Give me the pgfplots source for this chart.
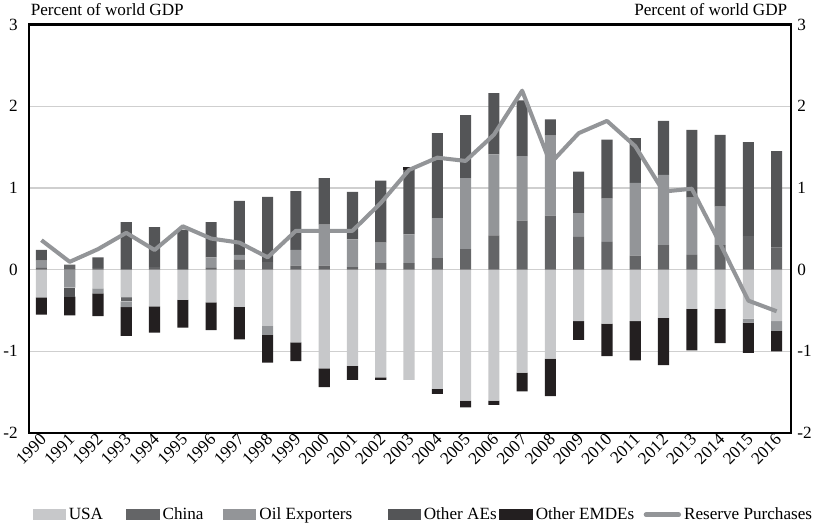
\documentclass[border=0pt]{standalone}
\usepackage{pgfplots}
\pgfplotsset{compat=1.18}
\usepackage{pgfplotstable}
\usepackage{fontspec}
\setmainfont{Liberation Serif}
\definecolor{cusa}{HTML}{C7C8CA}
\definecolor{cchina}{HTML}{646567}
\definecolor{coil}{HTML}{939598}
\definecolor{caes}{HTML}{545557}
\definecolor{cemde}{HTML}{231F20}
\definecolor{cline}{HTML}{939598}
\definecolor{cgrid}{HTML}{CFCFCF}

\pgfplotstableread{
year usa china oil aes emde
1990 0 0.02 0.09 0.13 0
1991 0 0.06 0 0 0
1992 0 0.02 0 0.13 0
1993 0 0 0 0.58 0
1994 0 0.03 0 0.49 0
1995 0 0 0 0.49 0
1996 0 0.02 0.13 0.43 0
1997 0 0.12 0.06 0.66 0
1998 0 0.09 0 0.80 0
1999 0 0.05 0.19 0.72 0
2000 0 0.05 0.50 0.57 0
2001 0 0.03 0.34 0.58 0
2002 0 0.08 0.25 0.76 0
2003 0 0.08 0.35 0.79 0.03
2004 0 0.14 0.49 1.04 0
2005 0 0.25 0.87 0.77 0
2006 0 0.42 0.99 0.75 0
2007 0 0.60 0.79 0.68 0
2008 0 0.66 0.98 0.20 0
2009 0 0.40 0.29 0.51 0
2010 0 0.34 0.53 0.72 0
2011 0 0.17 0.89 0.55 0
2012 0 0.30 0.86 0.66 0
2013 0 0.18 0.70 0.83 0
2014 0 0.30 0.47 0.88 0
2015 0 0.41 0 1.15 0
2016 0 0.27 0 1.18 0
}\postab

\pgfplotstableread{
year usa china oil aes emde
1990 -0.34 0 0 0 -0.21
1991 0 0 -0.22 -0.11 -0.23
1992 -0.23 0 -0.06 0 -0.28
1993 -0.34 -0.05 -0.07 0 -0.35
1994 -0.45 0 0 0 -0.32
1995 -0.37 0 0 0 -0.34
1996 -0.40 0 0 0 -0.34
1997 -0.455 0 0 0 -0.40
1998 -0.69 0 -0.11 0 -0.34
1999 -0.89 0 0 0 -0.23
2000 -1.21 0 0 0 -0.23
2001 -1.18 0 0 0 -0.17
2002 -1.32 0 0 0 -0.03
2003 -1.35 0 0 0 0
2004 -1.46 0 0 0 -0.06
2005 -1.605 0 0 0 -0.08
2006 -1.605 0 0 0 -0.05
2007 -1.26 0 0 0 -0.23
2008 -1.09 0 0 0 -0.46
2009 -0.63 0 0 0 -0.23
2010 -0.66 0 0 0 -0.40
2011 -0.63 0 0 0 -0.48
2012 -0.59 0 0 0 -0.58
2013 -0.48 0 0 0 -0.51
2014 -0.48 0 0 0 -0.42
2015 -0.60 0 -0.05 0 -0.37
2016 -0.63 0 -0.12 0 -0.25
}\negtab

\pgfplotstableread{
year res
1990 0.36
1991 0.095
1992 0.25
1993 0.45
1994 0.24
1995 0.53
1996 0.38
1997 0.33
1998 0.15
1999 0.475
2000 0.475
2001 0.475
2002 0.815
2003 1.22
2004 1.37
2005 1.33
2006 1.65
2007 2.19
2008 1.30
2009 1.67
2010 1.82
2011 1.51
2012 0.955
2013 0.99
2014 0.32
2015 -0.38
2016 -0.51
}\restab

\pgfplotsset{
  base/.style={width=755pt, height=405pt, scale only axis,
    xmin=1989.57, xmax=2016.5, ymin=-2, ymax=3,
    /pgf/number format/assume math mode=true,
    /pgf/number format/1000 sep={},
    major tick length=0pt,
    tick label style={font=\fontsize{17}{20}\selectfont}},
  barleg/.style={legend image code/.code={\fill[##1] (0pt,-5.5pt) rectangle (33pt,5.5pt);}},
}
\newcommand{\lcell}[2]{\makebox[#1][l]{\hspace{3pt}#2}}

\begin{document}
\begin{tikzpicture}[font=\fontsize{17}{20}\selectfont]
% negative stack, grid, frame, left labels
\begin{axis}[base, ybar stacked, bar width=11pt, clip mode=individual,
  xtick={1990,...,2016},
  x tick label style={rotate=45, anchor=east, xshift=2pt, yshift=-4pt},
  ytick={-2,-1,0,1,2,3}, yticklabel pos=left,
  yticklabel style={xshift=-8pt},
  ymajorgrids, grid style={cgrid, line width=1.3pt},
  axis line style={line width=2.4pt}]
\addplot[fill=cusa, draw=none] table[x=year,y=usa]{\negtab};
\addplot[fill=cchina, draw=none] table[x=year,y=china]{\negtab};
\addplot[fill=coil, draw=none] table[x=year,y=oil]{\negtab};
\addplot[fill=caes, draw=none] table[x=year,y=aes]{\negtab};
\addplot[fill=cemde, draw=none] table[x=year,y=emde]{\negtab};
\node[anchor=base west, yshift=9pt, xshift=-2pt] at (rel axis cs:0,1) {Percent of world GDP};
\node[anchor=base east, yshift=9pt] at (rel axis cs:1,1) {Percent of world GDP};
\end{axis}
% positive stack, right labels, legend
\begin{axis}[base, ybar stacked, bar width=11pt,
  xtick=\empty, ytick={-2,-1,0,1,2,3}, yticklabel pos=right,
  yticklabel style={xshift=3pt},
  axis line style={draw=none},
  legend columns=6,
  legend style={at={(0.004,-0.2)}, anchor=west, draw=none, fill=none,
    inner sep=0pt, font=\fontsize{17}{20}\selectfont,
    nodes={inner xsep=0pt},
    /tikz/every odd column/.append style={column sep=0pt},
    /tikz/every even column/.append style={column sep=0pt}}]
\addplot[fill=cusa, draw=none, barleg] table[x=year,y=usa]{\postab};
\addplot[fill=cchina, draw=none, barleg] table[x=year,y=china]{\postab};
\addplot[fill=coil, draw=none, barleg] table[x=year,y=oil]{\postab};
\addplot[fill=caes, draw=none, barleg] table[x=year,y=aes]{\postab};
\addplot[fill=cemde, draw=none, barleg] table[x=year,y=emde]{\postab};
\addlegendimage{legend image code/.code={\draw[cline, line width=4.5pt, line cap=round] (2.5pt,0pt) -- (35pt,0pt);}}
\legend{\lcell{60pt}{USA}, \lcell{63pt}{China}, \lcell{130pt}{Oil Exporters}, \lcell{78pt}{Other AEs}, \lcell{110pt}{Other EMDEs}, \hspace{3pt}Reserve Purchases}
\end{axis}
% reserve purchases line
\begin{axis}[base, hide axis]
\addplot[cline, line width=4pt, line join=round, mark=none] table[x=year,y=res]{\restab};
\end{axis}
\end{tikzpicture}
\end{document}
